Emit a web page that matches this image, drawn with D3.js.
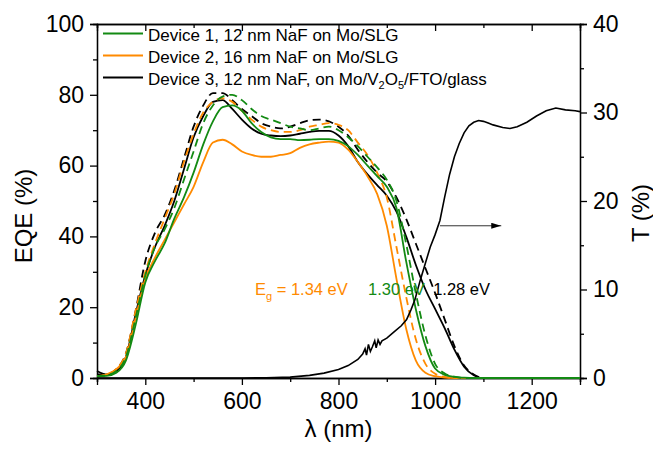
<!DOCTYPE html>
<html>
<head>
<meta charset="utf-8">
<script src="https://cdn.jsdelivr.net/npm/d3@7"></script>
<style>
  body { margin: 0; background: #fff; }
  svg text { font-family: "Liberation Sans", Arial, sans-serif; }
</style>
</head>
<body>
<div id="chart"></div>
<script>

// wavelength grid (nm)
const wl = [300,320,340,360,380,400,420,440,460,480,500,520,540,560,580,600,620,640,660,680,700,720,740,760,780,800,820,840,860,880,900,920,940,960,980,1000,1020,1040,1060,1080,1100,1300];

// EQE (%)
const dev1Solid  = [0.5,0.6,1.5,5,15,27,33,38,45,51,58,66,72.5,76.5,77,75.5,72,69.5,68,67.5,67.5,67.2,67.3,67.5,67.5,67,65.5,63,60,57,54,48,33,19.5,9,2.7,0.9,0.3,0.1,0,0,0];
const dev1Dashed = [0.5,0.8,2,6,17,29,37,42,48,56,64,72,77,79.5,80,78.5,76,74,73,72,71,70.5,70,70.5,71,70,68,65.5,62.5,59.5,56,50,38,24,12,4,1.3,0.4,0,0,0,0];
const dev2Solid  = [0.5,1,2.5,6,17,28,34,39,44,49,54,61,66.5,67.3,66,64,63,62.5,62.5,63,63.5,65,66,66.5,66.8,66.5,64.5,61,57,52,43,28,14,5,1.5,0.5,0.1,0,0,0,0,0];
const dev2Dashed = [0.5,1,2.5,7,19,30,38,45,52,61,69,75,78,79,78,75.5,73,71,70,69.5,69.5,70,71,71.5,72,71.5,70,66.5,63,58,51,37,23,11,4,1.2,0.3,0,0,0,0,0];
const dev3Solid  = [2,1,2,6,18,29,37,43,50,59,68,74,78,78.5,76,73,70.5,69,68.5,68.3,68.5,69,69.5,69.8,69.8,68.5,65.5,61,57.5,54.5,51.5,47,40,32,25,19.5,14,8,3.2,0.8,0,0];
const dev3Dashed = [1,1,2.5,7,19,33,41,46,53,62,71,77,80.5,80.5,78.5,76,74,72,71,70.5,71,72,72.8,73,72.5,71,68.5,64.5,61,58,55.5,51,45,38,31,24,16.5,9,3.5,1,0,0];

// transmission T (%) of the Mo/V2O5/FTO/glass stack
const tWl  = [300,400,500,600,650,700,740,770,800,820,840,850,855,858,862,866,870,875,878,882,886,890,900,915,930,941,950,958,969,980,990,1000,1010,1020,1030,1040,1050,1060,1070,1080,1090,1100,1110,1120,1140,1155,1170,1190,1210,1230,1250,1270,1290,1300];
const tVal = [0,0,0,0,0.02,0.1,0.3,0.55,0.95,1.4,2.1,2.7,3.3,2.6,3.8,3.0,3.5,4.2,3.4,4.3,3.8,4.2,4.5,5.2,5.9,6.6,7.7,8.8,11,13,14.8,16.2,17.8,20.5,23,25,26.5,27.7,28.5,28.9,29.1,29,28.8,28.6,28.3,28.2,28.4,28.9,29.6,30.2,30.5,30.3,30.2,30.1];

const xTicks = [400,600,800,1000,1200];
const yLeftTicks = [0,20,40,60,80,100];
const yRightTicks = [0,10,20,30,40];

const series = [
	{name: "d3dash", vals: dev3Dashed, color: "#000000", dash: "8,5"},
	{name: "d3", vals: dev3Solid, color: "#000000", dash: null},
	{name: "d2dash", vals: dev2Dashed, color: "#ff8a00", dash: "8,5"},
	{name: "d2", vals: dev2Solid, color: "#ff8a00", dash: null},
	{name: "d1dash", vals: dev1Dashed, color: "#138a13", dash: "8,5"},
	{name: "d1", vals: dev1Solid, color: "#138a13", dash: null}
];

const W = 653, H = 453;
const margin = {top: 24, right: 73, bottom: 75, left: 97};
const width = W - margin.left - margin.right;
const height = H - margin.top - margin.bottom;

const svg = d3.select("#chart").append("svg")
	.attr("width", W)
	.attr("height", H);

const g = svg.append("g")
	.attr("transform", "translate(" + margin.left + "," + margin.top + ")");

const x = d3.scaleLinear().domain([300, 1300]).range([0, width]);
const y = d3.scaleLinear().domain([0, 100]).range([height, 0]);
const yT = d3.scaleLinear().domain([0, 40]).range([height, 0]);

// axes: major ticks with labels, minor ticks shorter
function styleAxis(sel) {
	sel.selectAll("path").attr("stroke", "#000").attr("stroke-width", 1.3);
	sel.selectAll("line").attr("stroke", "#000").attr("stroke-width", 1.3);
	sel.selectAll("text").attr("fill", "#000").style("font-size", "23px");
}

const xMinor = d3.range(300, 1301, 100).filter(v => !xTicks.includes(v));

g.append("g").attr("transform", "translate(0," + height + ")")
	.call(d3.axisBottom(x).tickValues(xMinor).tickSize(4).tickFormat(""))
	.call(styleAxis);
g.append("g").attr("transform", "translate(0," + height + ")")
	.call(d3.axisBottom(x).tickValues(xTicks).tickSize(7).tickPadding(8).tickFormat(d3.format("d")))
	.call(styleAxis);

// top frame, inward ticks
g.append("g")
	.call(d3.axisTop(x).tickValues(xTicks).tickSize(-7).tickFormat(""))
	.call(styleAxis);
g.append("g")
	.call(d3.axisTop(x).tickValues(xMinor).tickSize(-4).tickFormat(""))
	.call(styleAxis);

g.append("g")
	.call(d3.axisLeft(y).tickValues([10,30,50,70,90]).tickSize(4).tickFormat(""))
	.call(styleAxis);
g.append("g")
	.call(d3.axisLeft(y).tickValues(yLeftTicks).tickSize(7).tickPadding(6))
	.call(styleAxis);

g.append("g").attr("transform", "translate(" + width + ",0)")
	.call(d3.axisRight(yT).tickValues([5,15,25,35]).tickSize(4).tickFormat(""))
	.call(styleAxis);
g.append("g").attr("transform", "translate(" + width + ",0)")
	.call(d3.axisRight(yT).tickValues(yRightTicks).tickSize(7).tickPadding(6))
	.call(styleAxis);

// axis titles
svg.append("text")
	.attr("transform", "translate(32," + (margin.top + height / 2 + 15) + ") rotate(-90)")
	.attr("text-anchor", "middle")
	.style("font-size", "24px")
	.text("EQE (%)");

svg.append("text")
	.attr("transform", "translate(649," + (margin.top + height / 2 + 12) + ") rotate(-90)")
	.attr("text-anchor", "middle")
	.style("font-size", "24px")
	.text("T (%)");

svg.append("text")
	.attr("x", margin.left + width / 2)
	.attr("y", 437)
	.attr("text-anchor", "middle")
	.style("font-size", "24px")
	.text("λ (nm)");

// EQE curves
const line = d3.line()
	.x((d, i) => x(wl[i]))
	.y(d => y(d))
	.curve(d3.curveMonotoneX);

series.forEach(function(s) {
	g.append("path")
		.datum(s.vals)
		.attr("d", line)
		.attr("fill", "none")
		.attr("stroke", s.color)
		.attr("stroke-width", 1.8)
		.attr("stroke-dasharray", s.dash);
});

// transmission curve on right axis
const tLine = d3.line()
	.x((d, i) => x(tWl[i]))
	.y(d => yT(d));

g.append("path")
	.datum(tVal)
	.attr("d", tLine)
	.attr("fill", "none")
	.attr("stroke", "#000")
	.attr("stroke-width", 1.6);

// arrow pointing to right axis
svg.append("defs").append("marker")
	.attr("id", "arrow")
	.attr("viewBox", "0 0 10 6")
	.attr("refX", 10).attr("refY", 3)
	.attr("markerWidth", 10).attr("markerHeight", 6)
	.attr("markerUnits", "userSpaceOnUse")
	.attr("orient", "auto")
	.append("path").attr("d", "M0,0L10,3L0,6Z").attr("fill", "#000");

g.append("line")
	.attr("x1", x(1010)).attr("x2", x(1137))
	.attr("y1", yT(17.2)).attr("y2", yT(17.2))
	.attr("stroke", "#333").attr("stroke-width", 1)
	.attr("marker-end", "url(#arrow)");

// band gap annotations
const eg = g.append("text")
	.attr("x", x(627)).attr("y", y(23.5))
	.attr("fill", "#ff8a00")
	.style("font-size", "16.5px");
eg.append("tspan").text("E");
eg.append("tspan").attr("dy", 5).style("font-size", "11px").text("g");
eg.append("tspan").attr("dy", -5).text(" = 1.34 eV");

g.append("text")
	.attr("x", x(861)).attr("y", y(23.5))
	.attr("fill", "#138a13")
	.style("font-size", "16.5px")
	.text("1.30 eV");

g.append("text")
	.attr("x", x(996)).attr("y", y(23.5))
	.attr("fill", "#000")
	.style("font-size", "16.5px")
	.text("1.28 eV");

// legend
const legendItems = [
	{color: "#138a13", label: ["Device 1, 12 nm NaF on Mo/SLG"]},
	{color: "#ff8a00", label: ["Device 2, 16 nm NaF on Mo/SLG"]},
	{color: "#000000", label: null}
];

const legend = svg.append("g");
legendItems.forEach(function(d, i) {
	const ly = 33.5 + i * 22;
	legend.append("line")
		.attr("x1", 103).attr("x2", 143)
		.attr("y1", ly).attr("y2", ly)
		.attr("stroke", d.color).attr("stroke-width", 1.8);
	const t = legend.append("text")
		.attr("x", 148).attr("y", ly + 7)
		.style("font-size", "17px");
	if (d.label) {
		t.text(d.label[0]);
	} else {
		t.append("tspan").text("Device 3, 12 nm NaF, on Mo/V");
		t.append("tspan").attr("dy", 4).style("font-size", "11px").text("2");
		t.append("tspan").attr("dy", -4).text("O");
		t.append("tspan").attr("dy", 4).style("font-size", "11px").text("5");
		t.append("tspan").attr("dy", -4).text("/FTO/glass");
	}
});

</script>
</body>
</html>
